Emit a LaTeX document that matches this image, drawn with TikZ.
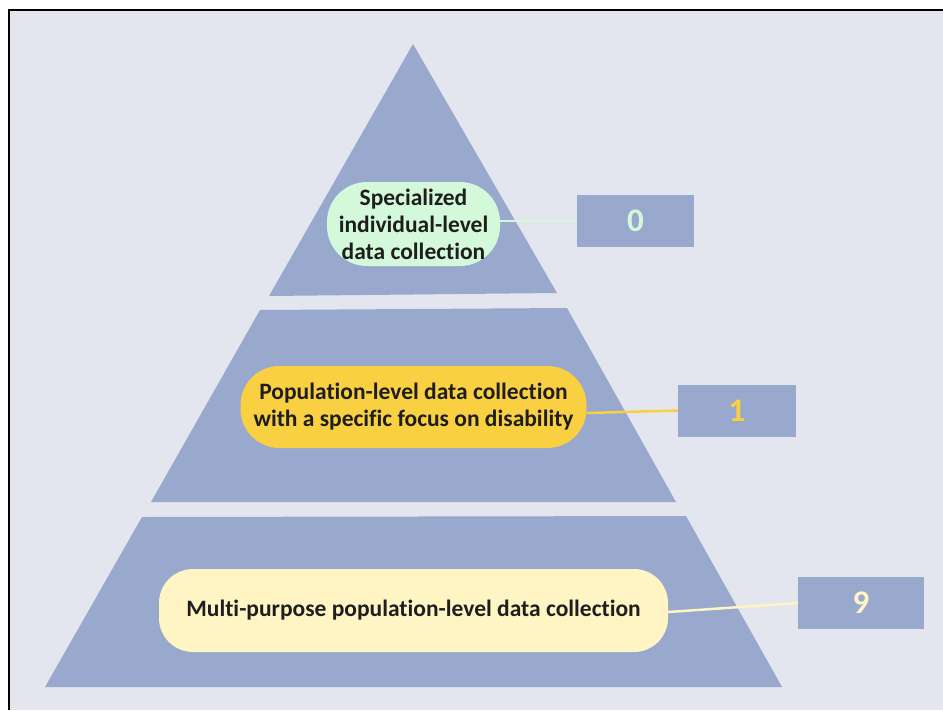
\documentclass[tikz,border=0pt]{standalone}
\usepackage{fontspec}
\setmainfont{Carlito}[Ligatures=NoCommon]
\definecolor{bgc}{HTML}{E3E6EF}
\definecolor{pyr}{HTML}{99A8CD}
\definecolor{greenc}{HTML}{D4F9DA}
\definecolor{yellowc}{HTML}{F9D042}
\definecolor{creamc}{HTML}{FFF4C3}
\definecolor{txt}{HTML}{1E1E1E}
\begin{document}
\begin{tikzpicture}[x=1pt,y=-1pt,
  pill/.style={inner sep=0pt, align=center, text=txt,
    font=\fontsize{23.5}{27}\selectfont\bfseries},
  numbox/.style={fill=pyr, inner sep=0pt, minimum width=118pt, minimum height=52pt,
    font=\fontsize{33}{33}\selectfont\bfseries},
  link/.style={line width=2.5pt}]
\useasboundingbox (0,0) rectangle (943,710);
\fill[white] (0,0) rectangle (943,710);
\fill[bgc] (9,10) rectangle (943,710);
\draw[line width=2pt] (9,710) -- (9,10) -- (943,10);
% pyramid
\fill[pyr] (413,44) -- (557,293) -- (269,296) -- cycle;
\fill[pyr] (260,310) -- (567,308) -- (676,502) -- (151,502) -- cycle;
\fill[pyr] (142,517) -- (686,516) -- (782,687) -- (45,687) -- cycle;
% level labels
\node[pill, fill=greenc, minimum width=173pt, minimum height=84pt, rounded corners=40pt] (s) at (413.5,224) {Specialized\\individual-level\\data collection};
\node[pill, fill=yellowc, minimum width=346pt, minimum height=82pt, rounded corners=39pt] (p) at (413.5,407) {Population-level data collection\\with a specific focus on disability};
\node[pill, fill=creamc, minimum width=509pt, minimum height=83pt, rounded corners=34pt] (m) at (413.5,610.5) {Multi-purpose population-level data collection};
% number boxes
\node[numbox, text=greenc, minimum width=117pt] (n0) at (635.5,221) {0};
\node[numbox, text=yellowc] (n1) at (737,410.5) {1};
\node[numbox, text=creamc, minimum width=126pt] (n9) at (861,603) {9};
% connectors
\draw[link, greenc, line width=2pt] ([yshift=3pt]s.east) -- (n0.west);
\draw[link, yellowc] ([yshift=-6pt]p.east) -- (n1.west);
\draw[link, creamc] ([yshift=-1.5pt]m.east) -- (n9.west);
\end{tikzpicture}
\end{document}
